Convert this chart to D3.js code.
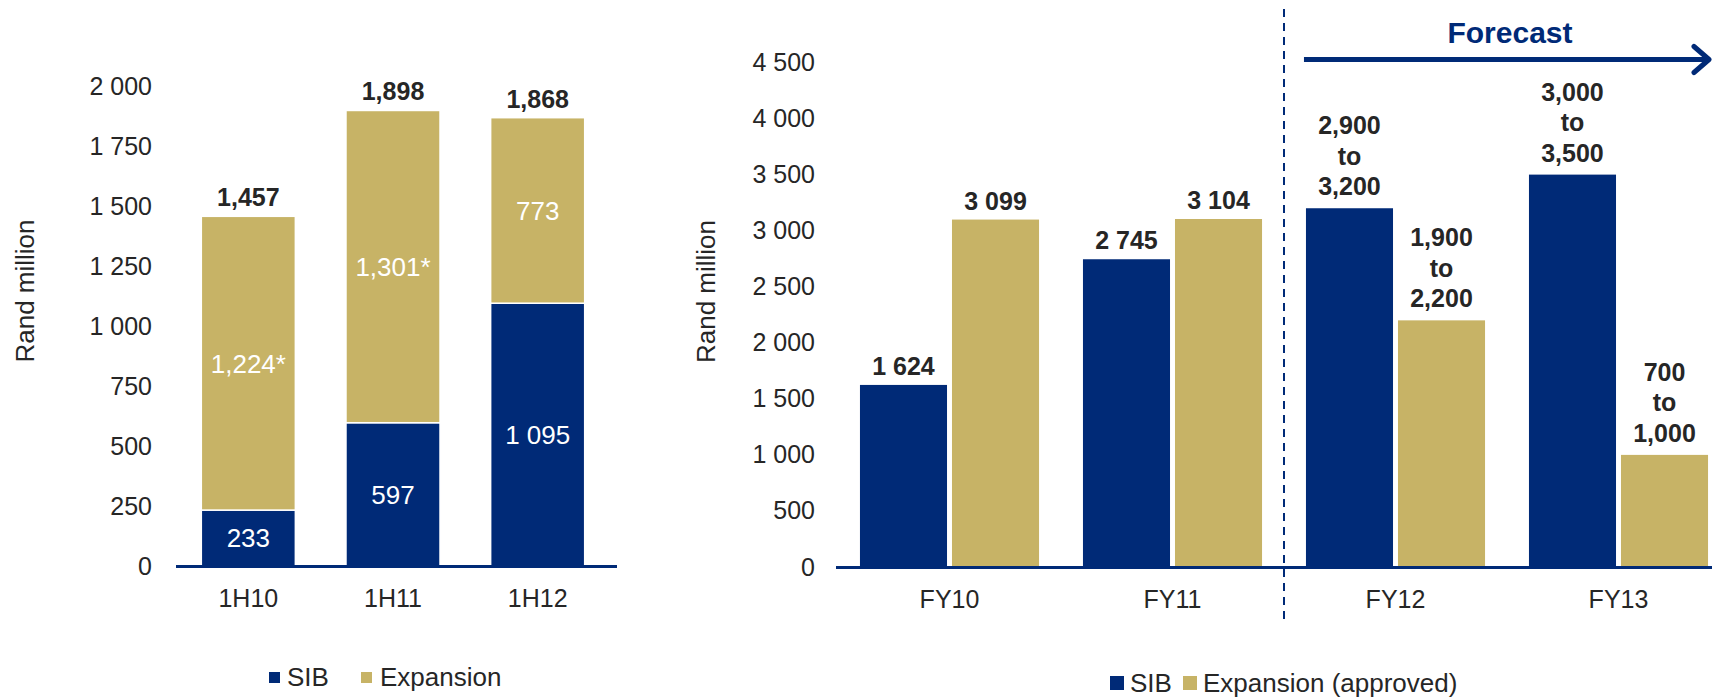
<!DOCTYPE html>
<html>
<head>
<meta charset="utf-8">
<script src="https://cdn.jsdelivr.net/npm/d3@7"></script>
<style>
  html, body { margin: 0; padding: 0; background: #fff; }
  svg { display: block; font-family: "Liberation Sans", Arial, sans-serif; }
</style>
</head>
<body>
<svg id="chart" width="1712" height="697"></svg>
<script>
// ---- Half-year capital expenditure (stacked) ----
const halfYears = ["1H10", "1H11", "1H12"];
const halfSib = [233, 597, 1095];
const halfExpansion = [1224, 1301, 773];
const halfExpansionNote = ["*", "*", ""];
const halfTicks = [0, 250, 500, 750, 1000, 1250, 1500, 1750, 2000];

// ---- Full-year actuals and forecast ranges ----
const fullYears = ["FY10", "FY11", "FY12", "FY13"];
const actualYears = ["FY10", "FY11"];
const actualSib = [1624, 2745];
const actualExpansion = [3099, 3104];
const forecastYears = ["FY12", "FY13"];
const forecastSibLow = [2900, 3000];
const forecastSibHigh = [3200, 3500];
const forecastExpLow = [1900, 700];
const forecastExpHigh = [2200, 1000];
const fullTicks = [0, 500, 1000, 1500, 2000, 2500, 3000, 3500, 4000, 4500];

const NAVY = "#002A77";
const GOLD = "#C7B366";
const TEXT = "#262626";
const TICK_SIZE = 25;
const LABEL_SIZE = 25;

const svg = d3.select("#chart");
const spaced = d3.formatLocale({ decimal: ".", thousands: " ", grouping: [3], currency: ["", ""] }).format(",");
const commas = d3.format(",");

// ================= Left panel =================
const xL = d3.scaleBand().domain(halfYears).range([176, 610]).paddingInner(0.35).paddingOuter(0.175);
const yL = d3.scaleLinear().domain([0, 2000]).range([566, 86]);

const left = svg.append("g");

left.append("g")
  .attr("transform", "translate(152,0)")
  .call(d3.axisLeft(yL).tickValues(halfTicks).tickSize(0).tickPadding(0).tickFormat(spaced))
  .call(g => g.select(".domain").remove())
  .selectAll("text")
  .attr("font-size", TICK_SIZE).attr("fill", TEXT).attr("font-family", "Liberation Sans, Arial, sans-serif");

const halfRows = halfYears.map((c, i) => ({
  cat: c, sib: halfSib[i], exp: halfExpansion[i], note: halfExpansionNote[i], total: halfSib[i] + halfExpansion[i]
}));

// SIB segment
left.selectAll("rect.sib").data(halfRows).join("rect")
  .attr("x", d => xL(d.cat)).attr("width", xL.bandwidth())
  .attr("y", d => yL(d.sib)).attr("height", d => yL(0) - yL(d.sib))
  .attr("fill", NAVY).attr("stroke", "#fff").attr("stroke-width", 1.5);

// Expansion segment stacked on SIB
left.selectAll("rect.exp").data(halfRows).join("rect")
  .attr("x", d => xL(d.cat)).attr("width", xL.bandwidth())
  .attr("y", d => yL(d.total)).attr("height", d => yL(d.sib) - yL(d.total))
  .attr("fill", GOLD).attr("stroke", "#fff").attr("stroke-width", 1.5);

// Baseline
left.append("line")
  .attr("x1", 176).attr("x2", 617).attr("y1", yL(0) + 0.5).attr("y2", yL(0) + 0.5)
  .attr("stroke", NAVY).attr("stroke-width", 3);

// Segment labels
left.selectAll("text.sibLbl").data(halfRows).join("text")
  .attr("x", d => xL(d.cat) + xL.bandwidth() / 2)
  .attr("y", d => yL(d.sib / 2)).attr("dy", "0.36em")
  .attr("text-anchor", "middle").attr("font-size", 26).attr("fill", "#fff")
  .text(d => spaced(d.sib));

left.selectAll("text.expLbl").data(halfRows).join("text")
  .attr("x", d => xL(d.cat) + xL.bandwidth() / 2)
  .attr("y", d => yL(d.sib + d.exp / 2)).attr("dy", "0.36em")
  .attr("text-anchor", "middle").attr("font-size", 26).attr("fill", "#fff")
  .text(d => commas(d.exp) + d.note);

// Totals
left.selectAll("text.total").data(halfRows).join("text")
  .attr("x", d => xL(d.cat) + xL.bandwidth() / 2)
  .attr("y", d => yL(d.total) - 10)
  .attr("text-anchor", "middle").attr("font-size", LABEL_SIZE).attr("font-weight", "bold").attr("fill", TEXT)
  .text(d => commas(d.total));

// Category labels
left.selectAll("text.cat").data(halfYears).join("text")
  .attr("x", d => xL(d) + xL.bandwidth() / 2).attr("y", 607)
  .attr("text-anchor", "middle").attr("font-size", TICK_SIZE).attr("fill", TEXT)
  .text(d => d);

// Axis title
left.append("text")
  .attr("transform", "translate(24.5,291) rotate(-90)")
  .attr("text-anchor", "middle").attr("dy", "0.36em")
  .attr("font-size", 26).attr("fill", TEXT).text("Rand million");

// Legend
const legL = left.append("g");
legL.append("rect").attr("x", 269).attr("y", 672).attr("width", 11).attr("height", 11).attr("fill", NAVY);
legL.append("text").attr("x", 287).attr("y", 686).attr("font-size", 26).attr("fill", TEXT).text("SIB");
legL.append("rect").attr("x", 361).attr("y", 672).attr("width", 11).attr("height", 11).attr("fill", GOLD);
legL.append("text").attr("x", 380).attr("y", 686).attr("font-size", 26).attr("fill", TEXT).text("Expansion");

// ================= Right panel =================
const xR = d3.scaleBand().domain(fullYears).range([838, 1730]).paddingInner(0.197).paddingOuter(0.0985);
const xS = d3.scaleBand().domain(["sib", "exp"]).range([0, xR.bandwidth()]).paddingInner(0.054);
const yR = d3.scaleLinear().domain([0, 4500]).range([567, 62.5]);

const right = svg.append("g");

right.append("g")
  .attr("transform", "translate(815,0)")
  .call(d3.axisLeft(yR).tickValues(fullTicks).tickSize(0).tickPadding(0).tickFormat(spaced))
  .call(g => g.select(".domain").remove())
  .selectAll("text")
  .attr("font-size", TICK_SIZE).attr("fill", TEXT).attr("font-family", "Liberation Sans, Arial, sans-serif");

const fullBars = [];
actualYears.forEach((c, i) => {
  fullBars.push({ cat: c, key: "sib", v: actualSib[i], lines: [spaced(actualSib[i])] });
  fullBars.push({ cat: c, key: "exp", v: actualExpansion[i], lines: [spaced(actualExpansion[i])] });
});
forecastYears.forEach((c, i) => {
  fullBars.push({ cat: c, key: "sib", v: forecastSibHigh[i], lines: [commas(forecastSibLow[i]), "to", commas(forecastSibHigh[i])] });
  fullBars.push({ cat: c, key: "exp", v: forecastExpHigh[i], lines: [commas(forecastExpLow[i]), "to", commas(forecastExpHigh[i])] });
});

right.selectAll("rect.bar").data(fullBars).join("rect")
  .attr("x", d => xR(d.cat) + xS(d.key)).attr("width", xS.bandwidth())
  .attr("y", d => yR(d.v)).attr("height", d => yR(0) - yR(d.v))
  .attr("fill", d => d.key === "sib" ? NAVY : GOLD);

// Baseline
right.append("line")
  .attr("x1", 836).attr("x2", 1712).attr("y1", yR(0) + 0.5).attr("y2", yR(0) + 0.5)
  .attr("stroke", NAVY).attr("stroke-width", 3);

// Value labels (single value or low/high range)
const lbl = right.selectAll("text.val").data(fullBars).join("text")
  .attr("text-anchor", "middle").attr("font-size", LABEL_SIZE).attr("font-weight", "bold").attr("fill", TEXT);
lbl.each(function (d) {
  const cx = xR(d.cat) + xS(d.key) + xS.bandwidth() / 2;
  const gapAbove = d.lines.length > 1 ? 13 : 10;
  const lastY = yR(d.v) - gapAbove;
  const lh = 30.5;
  d3.select(this).selectAll("tspan").data(d.lines).join("tspan")
    .attr("x", cx)
    .attr("y", (t, j) => lastY - (d.lines.length - 1 - j) * lh)
    .text(t => t);
});

// Category labels
right.selectAll("text.cat").data(fullYears).join("text")
  .attr("x", d => xR(d) + xR.bandwidth() / 2).attr("y", 608)
  .attr("text-anchor", "middle").attr("font-size", TICK_SIZE).attr("fill", TEXT)
  .text(d => d);

// Divider between actuals and forecast
const divX = xR("FY12") - xR.step() * xR.paddingInner() / 2;
right.append("line")
  .attr("x1", divX).attr("x2", divX).attr("y1", 9).attr("y2", 622)
  .attr("stroke", NAVY).attr("stroke-width", 2).attr("stroke-dasharray", "8,6");

// Forecast arrow
const arrowY = 59.5;
const arrowX0 = xR("FY12") - 2;
right.append("line")
  .attr("x1", arrowX0).attr("x2", 1709).attr("y1", arrowY).attr("y2", arrowY)
  .attr("stroke", NAVY).attr("stroke-width", 5);
right.append("path")
  .attr("d", `M1694,${arrowY - 13} L1709,${arrowY} L1694,${arrowY + 13}`)
  .attr("fill", "none").attr("stroke", NAVY).attr("stroke-width", 5)
  .attr("stroke-linecap", "round").attr("stroke-linejoin", "round");
right.append("text")
  .attr("x", 1510).attr("y", 43)
  .attr("text-anchor", "middle").attr("font-size", 30).attr("font-weight", "bold").attr("fill", NAVY)
  .text("Forecast");

// Axis title
right.append("text")
  .attr("transform", "translate(706,291.5) rotate(-90)")
  .attr("text-anchor", "middle").attr("dy", "0.36em")
  .attr("font-size", 26).attr("fill", TEXT).text("Rand million");

// Legend
const legR = right.append("g");
legR.append("rect").attr("x", 1110).attr("y", 676).attr("width", 14).attr("height", 14).attr("fill", NAVY);
legR.append("text").attr("x", 1130).attr("y", 692).attr("font-size", 26).attr("fill", TEXT).text("SIB");
legR.append("rect").attr("x", 1183).attr("y", 676).attr("width", 14).attr("height", 14).attr("fill", GOLD);
legR.append("text").attr("x", 1203).attr("y", 692).attr("font-size", 26).attr("fill", TEXT).text("Expansion (approved)");
</script>
</body>
</html>
